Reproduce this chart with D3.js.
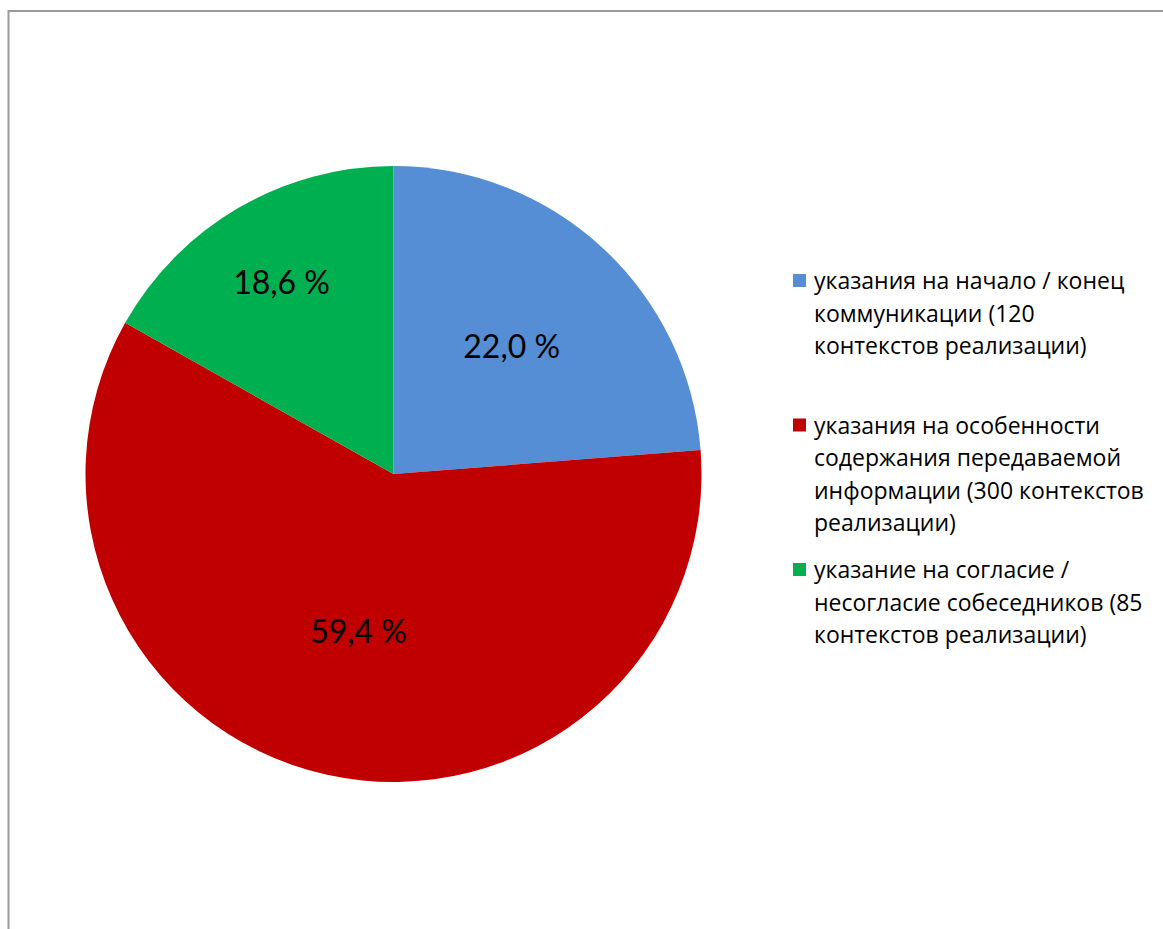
<!DOCTYPE html>
<html>
  <head>
    <meta charset="utf-8">
    <title>Pie chart</title>
    <style>
      body { margin: 0; background: #fff; }
    </style>
  </head>
  <body>
    <script src="https://cdnjs.cloudflare.com/ajax/libs/d3/7.8.5/d3.min.js"></script>
    <script>
      // data
      let categories = [
        'указания на начало / конец коммуникации (120 контекстов реализации)',
        'указания на особенности содержания передаваемой информации (300 контекстов реализации)',
        'указание на согласие / несогласие собеседников (85 контекстов реализации)'
      ];
      let counts = [120, 300, 85];
      let labels = ['22,0 %', '59,4 %', '18,6 %'];
      let legendLines = [
        ['указания на начало / конец', 'коммуникации (120', 'контекстов реализации)'],
        ['указания на особенности', 'содержания передаваемой', 'информации (300 контекстов', 'реализации)'],
        ['указание на согласие /', 'несогласие собеседников (85', 'контекстов реализации)']
      ];
      let colors = ['#558ed5', '#c00000', '#00b050'];

      let width = 1163, height = 929;
      let cx = 393.5, cy = 474, R = 308;
      // how far out each label sits, as share of radius
      let labelRadius = [0.565, 0.525, 0.72];

      let svg = d3.select('body')
                  .append('svg')
                  .attr('width', width)
                  .attr('height', height);

      // frame
      svg.append('path')
         .attr('d', `M8.5,${height} L8.5,11 L${width},11`)
         .attr('fill', 'none')
         .attr('stroke', '#9a9a9a')
         .attr('stroke-width', 2);

      let color = d3.scaleOrdinal()
                    .domain(categories)
                    .range(colors);

      let pie = d3.pie()
                  .sort(null)
                  .value((d) => d.count);

      let data = categories.map((c, i) => ({ cat: c, count: counts[i], label: labels[i] }));
      let arcs = pie(data);

      let arc = d3.arc()
                  .innerRadius(0)
                  .outerRadius(R);

      let g = svg.append('g')
                 .attr('transform', `translate(${cx},${cy})`);

      g.selectAll('path')
       .data(arcs)
       .enter()
         .append('path')
         .attr('d', arc)
         .attr('fill', (d) => color(d.data.cat));

      g.selectAll('text')
       .data(arcs)
       .enter()
         .append('text')
         .attr('transform', (d, i) => {
           let r = R * labelRadius[i];
           let a = (d.startAngle + d.endAngle) / 2;
           return `translate(${r * Math.sin(a)},${-r * Math.cos(a)})`;
         })
         .attr('text-anchor', 'middle')
         .attr('dy', '0.36em')
         .style('font-family', 'Lato, sans-serif')
         .attr('font-size', 32)
         .attr('fill', '#000')
         .text((d) => d.data.label);

      // legend
      let legend = svg.append('g')
                      .attr('transform', 'translate(793,289)');

      let item = legend.selectAll('g')
                       .data(categories)
                       .enter()
                         .append('g')
                         .attr('transform', (d, i) => `translate(0,${i * 144.5})`);

      item.append('rect')
          .attr('x', 0)
          .attr('y', -15)
          .attr('width', 13)
          .attr('height', 13)
          .attr('fill', (d) => color(d));

      item.append('text')
          .attr('x', 21)
          .style('font-family', '"Open Sans", sans-serif')
          .attr('font-size', 23)
          .attr('fill', '#000')
          .selectAll('tspan')
          .data((d, i) => legendLines[i])
          .enter()
            .append('tspan')
            .attr('x', 21)
            .attr('dy', (d, i) => i === 0 ? 0 : 32.5)
            .text((d) => d);
    </script>
  </body>
</html>
